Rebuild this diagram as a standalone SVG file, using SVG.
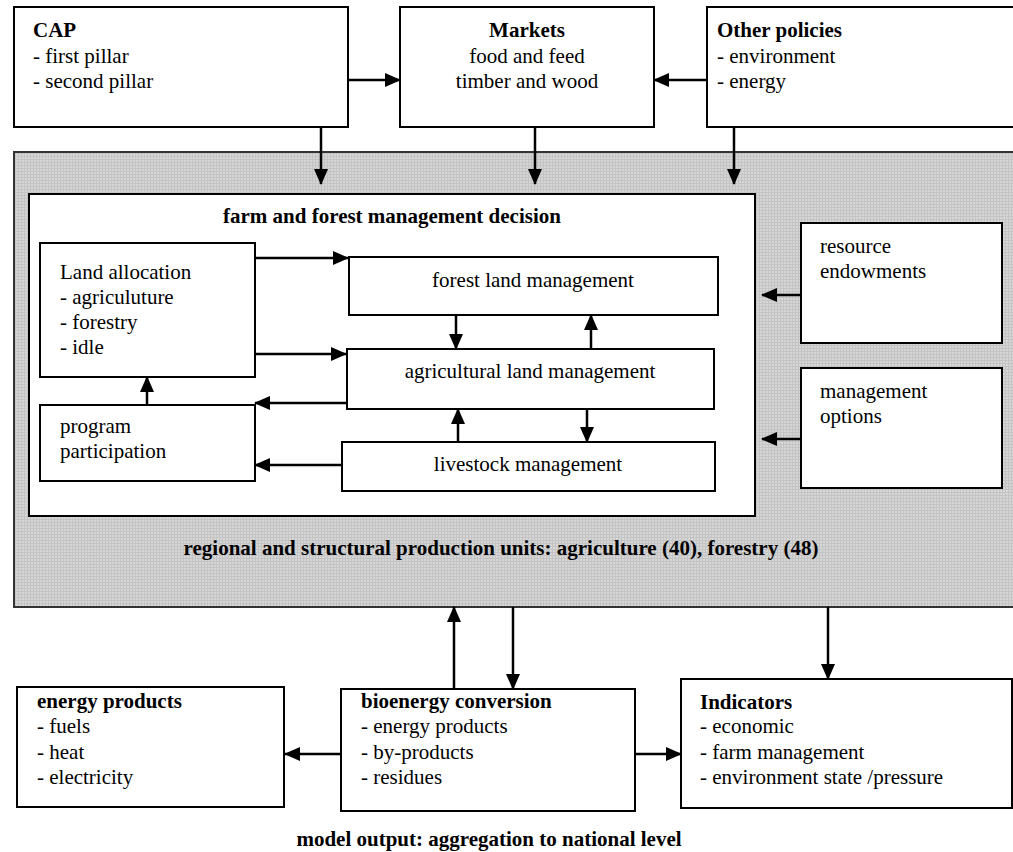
<svg xmlns="http://www.w3.org/2000/svg" width="1013" height="852" viewBox="0 0 1013 852">
<style>
text{font-family:"Liberation Serif","Times New Roman",serif;font-size:21px;fill:#000}
.b{font-weight:bold}
.box{fill:#fff;stroke:#000;stroke-width:2}
.c{fill:none;stroke:#000;stroke-width:2.5;marker-end:url(#ah)}
.m{text-anchor:middle}
</style>
<defs>
<marker id="ah" markerUnits="userSpaceOnUse" markerWidth="16" markerHeight="14" refX="15" refY="7" orient="auto">
<path d="M0,0 L16,7 L0,14 z" fill="#000"/>
</marker>
<pattern id="dots" width="3" height="3" patternUnits="userSpaceOnUse">
<rect width="3" height="3" fill="#d6d6d6"/>
<rect width="1" height="3" fill="#c4c4c4"/>
<rect width="3" height="1" fill="#c4c4c4"/>
</pattern>
</defs>
<rect width="1013" height="852" fill="#fff"/>

<g id="region">
<rect x="14" y="152" width="1010" height="455" fill="url(#dots)" stroke="#333" stroke-width="2"/>
<text class="b m" x="501" y="555">regional and structural production units: agriculture (40), forestry (48)</text>
</g>

<g id="cap">
<rect class="box" x="14" y="7" width="334" height="120"/>
<text class="b" x="33" y="37">CAP</text>
<text x="33" y="63">- first pillar</text>
<text x="33" y="88">- second pillar</text>
</g>

<g id="markets">
<rect class="box" x="400" y="7" width="254" height="120"/>
<text class="b m" x="527" y="37">Markets</text>
<text class="m" x="527" y="63">food and feed</text>
<text class="m" x="527" y="88">timber and wood</text>
</g>

<g id="other">
<rect class="box" x="707" y="7" width="320" height="120"/>
<text class="b" x="717" y="37">Other policies</text>
<text x="717" y="63">- environment</text>
<text x="717" y="88">- energy</text>
</g>

<g id="decision">
<rect class="box" x="29" y="194" width="726" height="322"/>
<text class="b m" x="392" y="223">farm and forest management decision</text>
</g>

<g id="land">
<rect class="box" x="40" y="243" width="215" height="134"/>
<text x="60" y="279">Land allocation</text>
<text x="60" y="304">- agriculuture</text>
<text x="60" y="329">- forestry</text>
<text x="60" y="354">- idle</text>
</g>

<g id="program">
<rect class="box" x="40" y="405" width="215" height="76"/>
<text x="60" y="433">program</text>
<text x="60" y="458">participation</text>
</g>

<g id="forest">
<rect class="box" x="349" y="257" width="369" height="58"/>
<text class="m" x="533" y="287">forest land management</text>
</g>

<g id="agri">
<rect class="box" x="347" y="349" width="367" height="60"/>
<text class="m" x="530" y="378">agricultural land management</text>
</g>

<g id="livestock">
<rect class="box" x="342" y="442" width="373" height="49"/>
<text class="m" x="528" y="471">livestock management</text>
</g>

<g id="resource">
<rect class="box" x="801" y="223" width="201" height="120"/>
<text x="820" y="253">resource</text>
<text x="820" y="278">endowments</text>
</g>

<g id="mgmt">
<rect class="box" x="801" y="368" width="201" height="120"/>
<text x="820" y="398">management</text>
<text x="820" y="423">options</text>
</g>

<g id="energy">
<rect class="box" x="17" y="687" width="267" height="120"/>
<text class="b" x="37" y="708">energy products</text>
<text x="37" y="733">- fuels</text>
<text x="37" y="759">- heat</text>
<text x="37" y="784">- electricity</text>
</g>

<g id="bioenergy">
<rect class="box" x="341" y="689" width="294" height="122"/>
<text class="b" x="361" y="708">bioenergy conversion</text>
<text x="361" y="733">- energy products</text>
<text x="361" y="759">- by-products</text>
<text x="361" y="784">- residues</text>
</g>

<g id="indicators">
<rect class="box" x="681" y="679" width="331" height="129"/>
<text class="b" x="700" y="709">Indicators</text>
<text x="700" y="733">- economic</text>
<text x="700" y="759">- farm management</text>
<text x="700" y="784">- environment state /pressure</text>
</g>

<text class="b m" x="489" y="846">model output: aggregation to national level</text>

<g id="connectors">
<path class="c" d="M348,80 H400"/>
<path class="c" d="M707,80 H654"/>
<path class="c" d="M321,127 V184"/>
<path class="c" d="M535,127 V184"/>
<path class="c" d="M734,127 V184"/>
<path class="c" d="M255,258 H348"/>
<path class="c" d="M255,354 H346"/>
<path class="c" d="M346,403 H255"/>
<path class="c" d="M342,465 H255"/>
<path class="c" d="M147,405 V377"/>
<path class="c" d="M456,315 V349"/>
<path class="c" d="M591,349 V315"/>
<path class="c" d="M458,442 V409"/>
<path class="c" d="M587,409 V442"/>
<path class="c" d="M801,295 H762"/>
<path class="c" d="M801,439 H762"/>
<path class="c" d="M454,689 V607"/>
<path class="c" d="M513,607 V689"/>
<path class="c" d="M828,607 V679"/>
<path class="c" d="M341,754 H285"/>
<path class="c" d="M635,754 H681"/>
</g>
</svg>
